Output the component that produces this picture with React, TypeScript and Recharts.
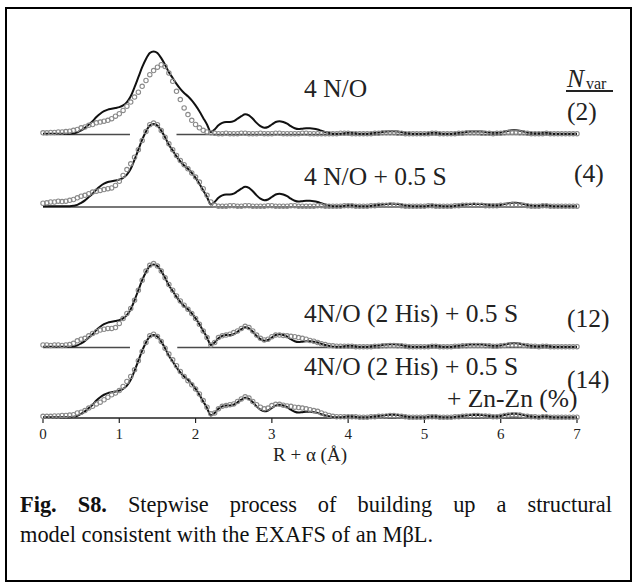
import * as React from "react";
import {
  ComposedChart,
  Line,
  XAxis,
  YAxis,
  ReferenceLine,
} from "recharts";

// R + alpha grid (Å), 0.05 step
const R_GRID = Array.from({ length: 141 }, (_, i) => Math.round(i * 5) / 100);
const X_TICKS = [0, 1, 2, 3, 4, 5, 6, 7];

// experimental FT magnitude (same data behind each fit)
const EXP = [
  0.01, 0.01, 0.01, 0.01, 0.01, 0.01, 0.01, 0.01, 0.015, 0.025,
  0.05, 0.08, 0.12, 0.16, 0.21, 0.25, 0.28, 0.30, 0.31, 0.32,
  0.33, 0.35, 0.39, 0.46, 0.57, 0.69, 0.81, 0.91, 0.98, 1.0,
  0.98, 0.92, 0.84, 0.75, 0.68, 0.61, 0.55, 0.50, 0.46, 0.41,
  0.35, 0.28, 0.20, 0.12, 0.03, 0.06, 0.11, 0.14, 0.15, 0.15,
  0.16, 0.19, 0.22, 0.245, 0.23, 0.19, 0.14, 0.10, 0.08, 0.09,
  0.12, 0.15, 0.16, 0.15, 0.13, 0.10, 0.075, 0.065, 0.07, 0.075,
  0.075, 0.07, 0.06, 0.045, 0.03, 0.02, 0.01, 0.01, 0.01, 0.015,
  0.02, 0.02, 0.015, 0.01, 0.01, 0.01, 0.015, 0.02, 0.025, 0.03,
  0.035, 0.04, 0.04, 0.035, 0.03, 0.02, 0.015, 0.01, 0.01, 0.01,
  0.01, 0.015, 0.02, 0.02, 0.015, 0.01, 0.01, 0.01, 0.015, 0.02,
  0.025, 0.03, 0.035, 0.035, 0.035, 0.035, 0.03, 0.025, 0.02, 0.02,
  0.025, 0.035, 0.045, 0.05, 0.05, 0.045, 0.035, 0.025, 0.02, 0.015,
  0.015, 0.02, 0.02, 0.015, 0.01, 0.01, 0.01, 0.01, 0.01, 0.01,
  0.01,
];

// fit: 4 N/O
const FIT_1 = [
  0.02, 0.02, 0.025, 0.025, 0.03, 0.03, 0.035, 0.04, 0.05, 0.06,
  0.08, 0.09, 0.11, 0.12, 0.14, 0.15, 0.16, 0.17, 0.19, 0.22,
  0.25, 0.29, 0.34, 0.39, 0.45, 0.51, 0.58, 0.65, 0.72, 0.77,
  0.81, 0.84, 0.82, 0.74, 0.64, 0.52, 0.42, 0.32, 0.24, 0.17,
  0.12, 0.08, 0.05, 0.03, 0.02, 0.015, 0.01, 0.01, 0.015, 0.01,
  0.01, 0.01, 0.015, 0.015, 0.01, 0.01, 0.01, 0.015, 0.01, 0.01,
  0.01, 0.015, 0.015, 0.01, 0.01, 0.01, 0.01, 0.01, 0.015, 0.015,
  0.01, 0.01, 0.01, 0.01, 0.01, 0.01, 0.01, 0.01, 0.015, 0.015,
  0.015, 0.01, 0.01, 0.01, 0.01, 0.01, 0.01, 0.015, 0.015, 0.02,
  0.02, 0.02, 0.02, 0.015, 0.015, 0.01, 0.01, 0.01, 0.01, 0.01,
  0.01, 0.01, 0.015, 0.015, 0.01, 0.01, 0.01, 0.01, 0.01, 0.015,
  0.015, 0.02, 0.02, 0.02, 0.02, 0.015, 0.015, 0.015, 0.01, 0.015,
  0.015, 0.02, 0.025, 0.025, 0.025, 0.02, 0.02, 0.015, 0.01, 0.01,
  0.01, 0.01, 0.015, 0.01, 0.01, 0.01, 0.01, 0.01, 0.01, 0.01,
  0.01,
];

// fit: 4 N/O + 0.5 S
const FIT_2 = [
  0.045, 0.05, 0.06, 0.06, 0.07, 0.065, 0.07, 0.08, 0.09, 0.11,
  0.13, 0.14, 0.16, 0.18, 0.19, 0.20, 0.21, 0.22, 0.23, 0.26,
  0.31, 0.38, 0.45, 0.52, 0.60, 0.69, 0.80, 0.91, 0.99, 1.01,
  0.99, 0.92, 0.84, 0.76, 0.69, 0.62, 0.56, 0.51, 0.46, 0.41,
  0.36, 0.30, 0.22, 0.14, 0.06, 0.02, 0.01, 0.01, 0.01, 0.015,
  0.015, 0.01, 0.01, 0.015, 0.015, 0.01, 0.01, 0.01, 0.01, 0.015,
  0.015, 0.01, 0.01, 0.01, 0.01, 0.015, 0.015, 0.01, 0.01, 0.01,
  0.01, 0.01, 0.015, 0.015, 0.01, 0.01, 0.01, 0.01, 0.01, 0.015,
  0.015, 0.015, 0.01, 0.01, 0.01, 0.01, 0.015, 0.015, 0.02, 0.02,
  0.02, 0.025, 0.02, 0.02, 0.015, 0.01, 0.01, 0.01, 0.01, 0.01,
  0.01, 0.015, 0.015, 0.01, 0.01, 0.01, 0.01, 0.01, 0.015, 0.015,
  0.02, 0.02, 0.02, 0.025, 0.02, 0.02, 0.015, 0.015, 0.015, 0.015,
  0.02, 0.02, 0.025, 0.03, 0.025, 0.025, 0.02, 0.015, 0.01, 0.01,
  0.01, 0.015, 0.015, 0.01, 0.01, 0.01, 0.01, 0.01, 0.01, 0.01,
  0.01,
];

// fit: 4N/O (2 His) + 0.5 S
const FIT_3 = [
  0.03, 0.03, 0.025, 0.03, 0.03, 0.025, 0.03, 0.035, 0.05, 0.08,
  0.10, 0.11, 0.14, 0.17, 0.19, 0.21, 0.22, 0.23, 0.23, 0.24,
  0.29, 0.35, 0.41, 0.47, 0.57, 0.69, 0.81, 0.92, 0.99, 1.01,
  0.98, 0.92, 0.84, 0.76, 0.69, 0.62, 0.56, 0.51, 0.46, 0.41,
  0.35, 0.28, 0.20, 0.12, 0.03, 0.06, 0.12, 0.14, 0.15, 0.16,
  0.18, 0.20, 0.23, 0.255, 0.24, 0.20, 0.15, 0.11, 0.09, 0.10,
  0.13, 0.15, 0.15, 0.145, 0.14, 0.135, 0.13, 0.12, 0.11, 0.10,
  0.085, 0.075, 0.06, 0.045, 0.035, 0.025, 0.02, 0.015, 0.015, 0.015,
  0.015, 0.015, 0.01, 0.01, 0.01, 0.01, 0.01, 0.015, 0.015, 0.02,
  0.02, 0.025, 0.025, 0.02, 0.02, 0.015, 0.01, 0.01, 0.01, 0.01,
  0.01, 0.01, 0.015, 0.015, 0.01, 0.01, 0.01, 0.01, 0.015, 0.015,
  0.02, 0.02, 0.025, 0.025, 0.025, 0.025, 0.02, 0.02, 0.015, 0.015,
  0.02, 0.025, 0.03, 0.03, 0.03, 0.03, 0.025, 0.02, 0.015, 0.015,
  0.01, 0.015, 0.015, 0.01, 0.01, 0.01, 0.01, 0.01, 0.01, 0.01,
  0.01,
];

// fit: 4N/O (2 His) + 0.5 S + Zn-Zn
const FIT_4 = [
  0.02, 0.02, 0.02, 0.025, 0.025, 0.03, 0.03, 0.035, 0.04, 0.06,
  0.07, 0.09, 0.12, 0.14, 0.17, 0.19, 0.22, 0.25, 0.28, 0.30,
  0.33, 0.38, 0.44, 0.50, 0.58, 0.69, 0.80, 0.91, 0.99, 1.01,
  0.98, 0.92, 0.84, 0.77, 0.70, 0.63, 0.56, 0.50, 0.45, 0.40,
  0.35, 0.29, 0.21, 0.13, 0.05, 0.06, 0.11, 0.14, 0.15, 0.16,
  0.17, 0.20, 0.23, 0.255, 0.24, 0.20, 0.16, 0.13, 0.11, 0.12,
  0.15, 0.165, 0.165, 0.155, 0.145, 0.14, 0.13, 0.125, 0.12, 0.11,
  0.10, 0.09, 0.08, 0.06, 0.045, 0.03, 0.02, 0.015, 0.015, 0.015,
  0.015, 0.015, 0.015, 0.01, 0.01, 0.01, 0.015, 0.015, 0.02, 0.02,
  0.025, 0.03, 0.03, 0.025, 0.02, 0.015, 0.01, 0.01, 0.01, 0.01,
  0.01, 0.015, 0.015, 0.015, 0.01, 0.01, 0.01, 0.01, 0.015, 0.015,
  0.02, 0.025, 0.025, 0.03, 0.03, 0.025, 0.025, 0.02, 0.015, 0.015,
  0.02, 0.03, 0.035, 0.04, 0.04, 0.035, 0.025, 0.02, 0.015, 0.015,
  0.01, 0.015, 0.015, 0.01, 0.01, 0.01, 0.01, 0.01, 0.01, 0.01,
  0.01,
];

// vertical offsets of the four stacked traces (top to bottom)
const OFFSETS = [3.414, 2.541, 0.849, 0];
const FITS = [FIT_1, FIT_2, FIT_3, FIT_4];

const data = R_GRID.map((r, i) => {
  const row: Record<string, number> = { R: r };
  OFFSETS.forEach((o, k) => {
    row["e" + k] = EXP[i] + o;
    row["f" + k] = FITS[k][i] + o;
  });
  return row;
});

const SERIF = "'Liberation Serif', 'Times New Roman', serif";

const Lbl = ({
  x,
  base,
  size = 25.5,
  children,
  style,
}: {
  x: number;
  base: number;
  size?: number;
  children: React.ReactNode;
  style?: React.CSSProperties;
}) => (
  <div
    style={{
      position: "absolute",
      left: x,
      top: base - 0.8375 * size,
      fontSize: size,
      lineHeight: `${size}px`,
      whiteSpace: "nowrap",
      color: "#222",
      ...style,
    }}
  >
    {children}
  </div>
);

const baseStyle = { stroke: "#4a4a4a", strokeWidth: 1.6 };

export default function App() {
  return (
    <div
      style={{
        position: "absolute",
        left: 0,
        top: 0,
        width: 637,
        height: 587,
        background: "#fff",
        fontFamily: SERIF,
      }}
    >
      <div
        style={{
          position: "absolute",
          left: 5,
          top: 7,
          width: 623,
          height: 571,
          border: "2px solid #000",
        }}
      />
      <div style={{ position: "absolute", left: 0, top: 0 }}>
        <ComposedChart
          width={637}
          height={480}
          data={data}
          margin={{ top: 36, right: 60, bottom: 12, left: 43 }}
        >
          <XAxis
            dataKey="R"
            type="number"
            domain={[0, 7]}
            ticks={X_TICKS}
            height={50}
            tickSize={5}
            tickMargin={5}
            axisLine={{ stroke: "#222", strokeWidth: 1.5 }}
            tickLine={{ stroke: "#222", strokeWidth: 1.2 }}
            tick={{ fontFamily: SERIF, fontSize: 15, fill: "#222" }}
            label={{
              value: "R + α (Å)",
              position: "insideBottom",
              offset: 7,
              style: { fontFamily: SERIF, fontSize: 19, fill: "#222" },
            }}
          />
          <YAxis type="number" domain={[0, 4.6]} hide />
          <ReferenceLine
            segment={[{ x: 0, y: OFFSETS[0] }, { x: 1.14, y: OFFSETS[0] }]}
            {...baseStyle}
          />
          <ReferenceLine
            segment={[{ x: 1.75, y: OFFSETS[0] }, { x: 7, y: OFFSETS[0] }]}
            {...baseStyle}
          />
          <ReferenceLine
            segment={[{ x: 0, y: OFFSETS[1] }, { x: 7, y: OFFSETS[1] }]}
            {...baseStyle}
          />
          <ReferenceLine
            segment={[{ x: 0, y: OFFSETS[2] }, { x: 1.14, y: OFFSETS[2] }]}
            {...baseStyle}
          />
          <ReferenceLine
            segment={[{ x: 1.76, y: OFFSETS[2] }, { x: 7, y: OFFSETS[2] }]}
            {...baseStyle}
          />
          {OFFSETS.map((_, k) => (
            <Line
              key={"e" + k}
              dataKey={"e" + k}
              type="monotone"
              stroke="#111"
              strokeWidth={2}
              dot={false}
              activeDot={false}
              isAnimationActive={false}
            />
          ))}
          {OFFSETS.map((_, k) => (
            <Line
              key={"f" + k}
              dataKey={"f" + k}
              stroke="none"
              dot={{ r: 2.2, stroke: "#8a8a8a", strokeWidth: 1.1, fill: "none" }}
              activeDot={false}
              isAnimationActive={false}
            />
          ))}
        </ComposedChart>
      </div>

      <Lbl x={304} base={97}>4 N/O</Lbl>
      <Lbl x={304} base={185}>4 N/O + 0.5 S</Lbl>
      <Lbl x={304} base={322}>4N/O (2 His) + 0.5 S</Lbl>
      <Lbl x={304} base={375}>4N/O (2 His) + 0.5 S</Lbl>
      <Lbl x={447} base={407}>+ Zn-Zn (%)</Lbl>

      <Lbl x={567} base={87} style={{ fontStyle: "italic" }}>N</Lbl>
      <Lbl x={586} base={89} size={16}>var</Lbl>
      <div
        style={{
          position: "absolute",
          left: 566,
          top: 90,
          width: 47,
          height: 1.5,
          background: "#222",
        }}
      />
      <Lbl x={567} base={120}>(2)</Lbl>
      <Lbl x={574} base={182}>(4)</Lbl>
      <Lbl x={567} base={327}>(12)</Lbl>
      <Lbl x={567} base={388}>(14)</Lbl>

      <div
        style={{
          position: "absolute",
          left: 20,
          top: 490,
          width: 592,
          fontSize: 22.4,
          lineHeight: "30px",
          color: "#111",
        }}
      >
        <div style={{ textAlign: "justify", textAlignLast: "justify" }}>
          <b>Fig. S8.</b> Stepwise process of building up a structural
        </div>
        <div>model consistent with the EXAFS of an MβL.</div>
      </div>
    </div>
  );
}
